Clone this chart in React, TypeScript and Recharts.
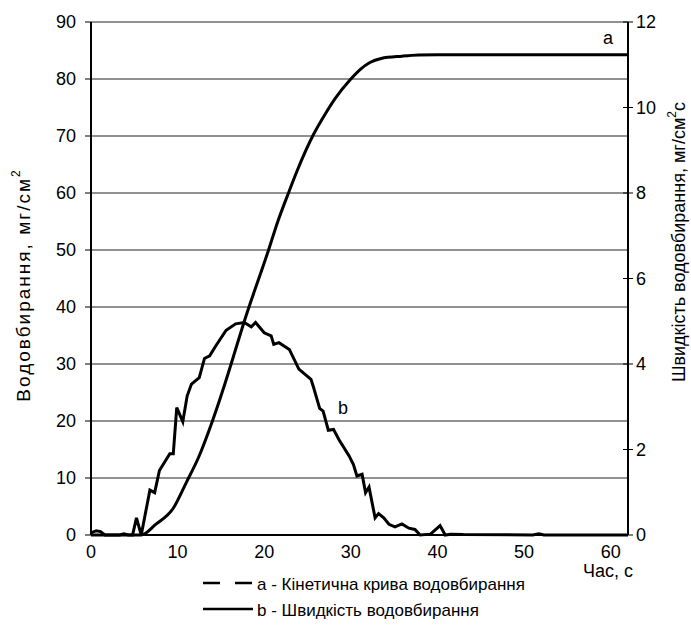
import { LineChart, Line, XAxis, YAxis, CartesianGrid } from "recharts";

// a - kinetic curve (left axis, mg/cm2)
const KINETIC_T = [0, 5.8, 7.5, 9.5, 11, 12.5, 14, 15.2, 16.4, 17.7, 20.5, 21.5, 22.9, 23.8, 25.7, 27.1, 28.2, 30, 31.1, 32.2, 33.5, 35.9, 37.8, 40, 62];
const KINETIC_V = [0, 0, 1.9, 4.7, 9.2, 13.9, 19.9, 25.3, 31.1, 37.5, 50, 54.7, 60.4, 63.9, 70.3, 74.0, 76.6, 80, 81.7, 82.9, 83.6, 84.0, 84.2, 84.25, 84.25];

// b - absorption rate (right axis, mg/cm2·s)
const RATE_T = [0, 0.6, 1.1, 1.6, 3.3, 3.8, 4.3, 4.8, 5.25, 5.8, 6.8, 7.35, 7.9, 9.1, 9.5, 9.9, 10.6, 11.1, 11.6, 12.5, 13.1, 13.7, 14.4, 15.6, 16.7, 17.7, 18.5, 19.0, 20.0, 20.8, 21.1, 21.7, 22.9, 24.0, 25.4, 25.7, 26.4, 26.8, 27.4, 28.0, 28.6, 29.8, 30.3, 30.7, 31.3, 31.7, 32.1, 32.8, 33.2, 33.8, 34.4, 35.1, 35.9, 36.7, 37.4, 38.0, 39.2, 40.3, 40.9, 41.5, 43, 51, 51.7, 52.3, 62];
const RATE_V = [0.05, 0.1, 0.08, 0, 0, 0.03, 0, 0, 0.4, 0, 1.05, 0.99, 1.51, 1.9, 1.9, 2.98, 2.65, 3.25, 3.53, 3.68, 4.13, 4.19, 4.42, 4.79, 4.94, 4.97, 4.87, 4.97, 4.73, 4.66, 4.46, 4.5, 4.34, 3.88, 3.64, 3.45, 2.96, 2.9, 2.45, 2.47, 2.24, 1.85, 1.65, 1.38, 1.42, 0.99, 1.12, 0.4, 0.5, 0.4, 0.25, 0.19, 0.26, 0.16, 0.13, 0, 0.02, 0.22, 0, 0.02, 0.01, 0, 0.03, 0, 0];

const X_TICKS = [0, 10, 20, 30, 40, 50, 60];
const LEFT_TICKS = [0, 10, 20, 30, 40, 50, 60, 70, 80, 90];
const RIGHT_TICKS = [0, 2, 4, 6, 8, 10, 12];

const kinetic = KINETIC_T.map((t, i) => ({ t, a: KINETIC_V[i] }));
const rate = RATE_T.map((t, i) => ({ t, b: RATE_V[i] }));

const FONT = "'Liberation Sans', Arial, sans-serif";
const tickStyle = { fontSize: 18, fill: "#000", fontFamily: FONT };

function RightTick(props: any) {
  const { x, y, payload } = props;
  const ax = x - 8; // axis line position (tickSize 5 + tickMargin 3)
  return (
    <g>
      <line x1={ax - 5} x2={ax} y1={y} y2={y} stroke="#000" strokeWidth={1} />
      <text x={x} y={y} dy="0.35em" textAnchor="start" {...tickStyle}>
        {payload.value}
      </text>
    </g>
  );
}

export default function App() {
  return (
    <div style={{ position: "absolute", left: 0, top: 0, width: 691, height: 626, background: "#fff", fontFamily: FONT }}>
      <LineChart width={691} height={626} margin={{ top: 22, right: 10, left: 10, bottom: 61 }}>
        <CartesianGrid vertical={false} stroke="#222" strokeWidth={1} />
        <XAxis
          dataKey="t"
          type="number"
          domain={[0, 62]}
          ticks={X_TICKS}
          allowDataOverflow
          height={30}
          tickLine={false}
          tickSize={0}
          tickMargin={10}
          axisLine={{ stroke: "#000", strokeWidth: 2 }}
          tick={tickStyle}
        />
        <YAxis
          yAxisId={0}
          domain={[0, 90]}
          ticks={LEFT_TICKS}
          width={81}
          tickSize={6}
          tickMargin={9}
          axisLine={{ stroke: "#000", strokeWidth: 2 }}
          tickLine={{ stroke: "#000" }}
          tick={tickStyle}
        />
        <YAxis
          yAxisId="right"
          orientation="right"
          domain={[0, 12]}
          ticks={RIGHT_TICKS}
          width={53}
          tickSize={5}
          tickMargin={3}
          axisLine={{ stroke: "#000", strokeWidth: 2 }}
          tickLine={{ stroke: "#000" }}
          tick={<RightTick />}
        />
        <Line
          data={kinetic}
          dataKey="a"
          yAxisId={0}
          type="monotone"
          stroke="#000"
          strokeWidth={3}
          dot={false}
          isAnimationActive={false}
        />
        <Line
          data={rate}
          dataKey="b"
          yAxisId="right"
          type="linear"
          stroke="#000"
          strokeWidth={3}
          dot={false}
          isAnimationActive={false}
        />
      </LineChart>
      <svg width={691} height={626} style={{ position: "absolute", left: 0, top: 0, pointerEvents: "none" }}>
        <g fontFamily={FONT} fill="#000">
          <text x={23} y={285} fontSize={19} letterSpacing={2} textAnchor="middle" dominantBaseline="central" transform="rotate(-90 23 285)">
            Водовбирання, мг/см<tspan fontSize={12} dy={-7}>2</tspan>
          </text>
          <text x={679} y={242} fontSize={18} textAnchor="middle" dominantBaseline="central" transform="rotate(-90 679 242)">
            Швидкість водовбирання, мг/см<tspan fontSize={12} dy={-7}>2</tspan><tspan dy={7}>с</tspan>
          </text>
          <text x={603} y={44} fontSize={18}>a</text>
          <text x={338} y={414} fontSize={18}>b</text>
          <text x={633} y={577} fontSize={18} textAnchor="end">Час, с</text>
          <line x1={203} x2={253} y1={583} y2={583} stroke="#000" strokeWidth={2.5} strokeDasharray="17 15" />
          <text x={257} y={590} fontSize={17}>a - Кінетична крива водовбирання</text>
          <line x1={203} x2={253} y1={609} y2={609} stroke="#000" strokeWidth={2.5} />
          <text x={257} y={616} fontSize={17}>b - Швидкість водовбирання</text>
        </g>
      </svg>
    </div>
  );
}
